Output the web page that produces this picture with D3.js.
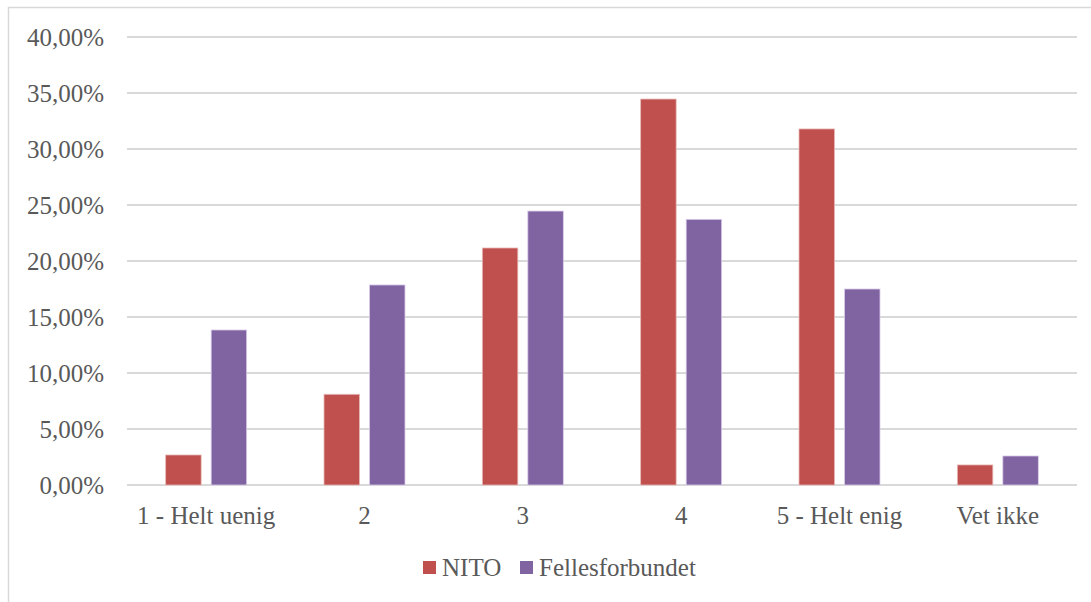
<!DOCTYPE html>
<html>
<head>
<meta charset="utf-8">
<script src="https://cdn.jsdelivr.net/npm/d3@7.9.0/dist/d3.min.js"></script>
<style>
  body { margin: 0; background: #fff; }
  svg { display: block; font-family: "Liberation Serif", "DejaVu Serif", serif; }
</style>
</head>
<body>
<svg id="chart" width="1091" height="602"></svg>
<script>
const categories = ['1 - Helt uenig', '2', '3', '4', '5 - Helt enig', 'Vet ikke'];
const nito = [2.68, 8.1, 21.16, 34.46, 31.79, 1.79];
const felles = [13.84, 17.86, 24.46, 23.72, 17.5, 2.59];
const seriesNames = ['NITO', 'Fellesforbundet'];
const yTicks = [0, 5, 10, 15, 20, 25, 30, 35, 40];

const colors = ['#C0504D', '#8064A2'];
const textColor = '#595959';
const fontSize = 25;

const svg = d3.select('#chart');

// outer frame (top and left edges visible)
svg.append('path')
  .attr('d', 'M8.5,602 V7.5 H1091')
  .attr('fill', 'none')
  .attr('stroke', '#D9D9D9')
  .attr('stroke-width', 1.5);

const plotLeft = 127, plotRight = 1077, plotTop = 37, plotBottom = 485;

const x = d3.scaleBand().domain(categories).range([plotLeft, plotRight]);
const y = d3.scaleLinear().domain([0, 40]).range([plotBottom, plotTop]);
const xs = d3.scaleBand().domain(seriesNames).range([0, x.bandwidth()])
  .paddingInner(0.22).paddingOuter(0.85);

// gridlines
svg.append('g')
  .selectAll('line')
  .data(yTicks)
  .join('line')
  .attr('x1', plotLeft).attr('x2', plotRight)
  .attr('y1', d => y(d)).attr('y2', d => y(d))
  .attr('stroke', '#D9D9D9')
  .attr('stroke-width', 2);

// y labels
svg.append('g')
  .selectAll('text')
  .data(yTicks)
  .join('text')
  .attr('x', 104)
  .attr('y', d => y(d))
  .attr('dy', '0.35em')
  .attr('text-anchor', 'end')
  .attr('fill', textColor)
  .attr('font-size', fontSize)
  .text(d => d3.format('.2f')(d).replace('.', ',') + '%');

// bars
const data = [nito, felles];
data.forEach((vals, si) => {
  svg.append('g')
    .selectAll('rect')
    .data(vals)
    .join('rect')
    .attr('x', (d, i) => x(categories[i]) + xs(seriesNames[si]))
    .attr('y', d => y(d))
    .attr('width', xs.bandwidth())
    .attr('height', d => plotBottom - y(d))
    .attr('fill', colors[si])
    .attr('stroke', si === 0 ? '#E6B9B8' : '#D9CCE8')
    .attr('stroke-width', 0.8);
});

// x labels
svg.append('g')
  .selectAll('text')
  .data(categories)
  .join('text')
  .attr('x', d => x(d) + x.bandwidth() / 2)
  .attr('y', 524)
  .attr('text-anchor', 'middle')
  .attr('fill', textColor)
  .attr('font-size', fontSize)
  .text(d => d);

// legend
const legendPos = [423, 520];
seriesNames.forEach((name, i) => {
  svg.append('rect')
    .attr('x', legendPos[i]).attr('y', 561)
    .attr('width', 13).attr('height', 13)
    .attr('fill', colors[i]);
  svg.append('text')
    .attr('x', legendPos[i] + 19).attr('y', 576)
    .attr('fill', textColor)
    .attr('font-size', fontSize)
    .text(name);
});
</script>
</body>
</html>
